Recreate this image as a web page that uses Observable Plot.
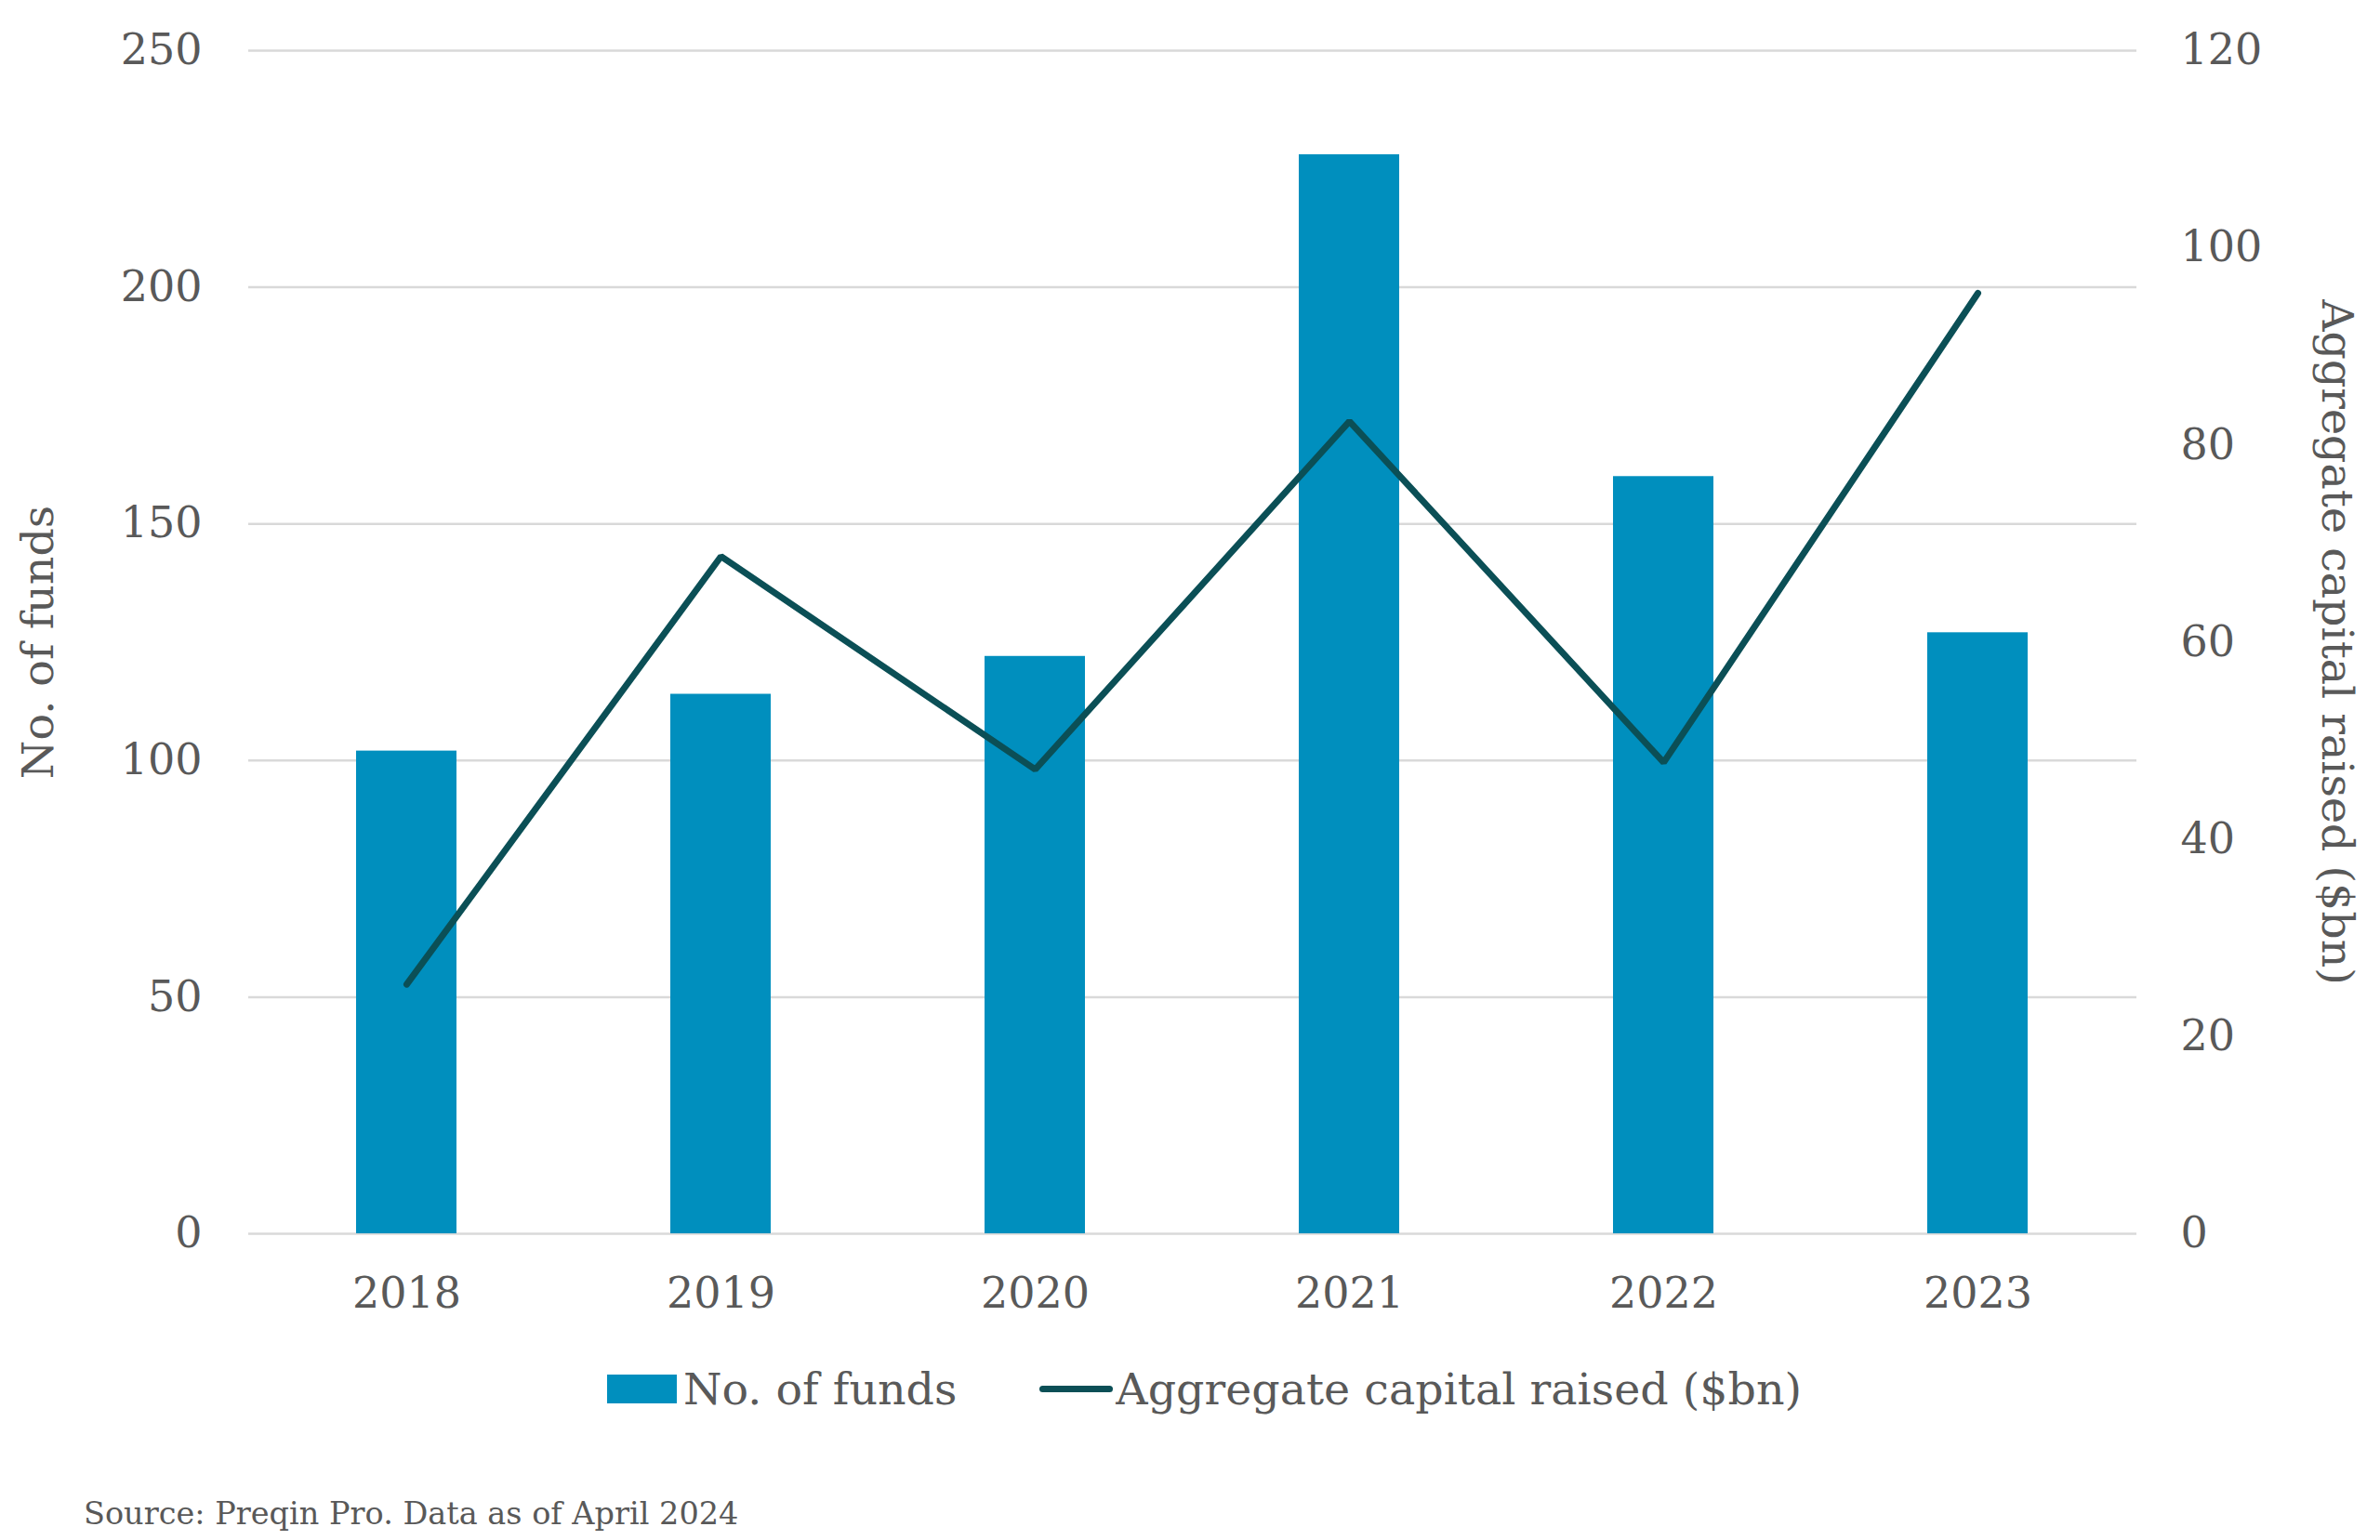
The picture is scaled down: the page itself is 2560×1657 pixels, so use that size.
<!DOCTYPE html>
<html><head><meta charset="utf-8">
<script src="https://cdn.jsdelivr.net/npm/d3@7"></script>
<script src="https://cdn.jsdelivr.net/npm/@observablehq/plot@0.6"></script>
<style>
body{margin:0;background:#fff;}
#wrap{position:relative;width:2560px;height:1657px;font-family:"DejaVu Serif",serif;color:#595959;overflow:hidden;}
#chart{position:absolute;left:0;top:0;}
#legend{position:absolute;left:653px;top:1474px;height:40px;display:flex;align-items:center;font-size:47.5px;white-space:nowrap;}
#legend .sw{width:75px;height:31px;background:#008fbe;margin-right:7px;}
#legend .ln{width:79px;height:7px;border-radius:4px;background:#0b4f56;margin-left:89px;margin-right:3px;}
#source{position:absolute;left:90px;top:1609px;font-size:33.5px;white-space:nowrap;}
</style></head><body>
<div id="wrap">
<div id="chart"></div>
<div id="legend"><div class="sw"></div><span>No. of funds</span><div class="ln"></div><span>Aggregate capital raised ($bn)</span></div>
<div id="source">Source: Preqin Pro. Data as of April 2024</div>
</div>
<script>
const years = ["2018","2019","2020","2021","2022","2023"];
const numFunds = [102,114,122,228,160,127];
const capitalRaised = [25.3,68.7,47.1,82.4,47.8,95.4];
const leftTicks = [0,50,100,150,200,250];
const rightTicks = [0,20,40,60,80,100,120];
const leftMax = 250, rightMax = 120;
const k = leftMax / rightMax;
const rows = years.map((y,i)=>({year:y, funds:numFunds[i], capital:capitalRaised[i]}));
const textColor = "#595959";

const chart = Plot.plot({
  width: 2560,
  height: 1440,
  marginLeft: 267,
  marginRight: 262,
  marginTop: 54,
  marginBottom: 113,
  style: {fontFamily: '"DejaVu Serif", serif', fontSize: "46px", color: textColor, background: "#fff"},
  x: {domain: years, paddingInner: 0.68, paddingOuter: 0.34, axis: null},
  y: {domain: [0, leftMax], axis: null},
  marks: [
    Plot.ruleY(leftTicks, {stroke: "#d9d9d9", strokeWidth: 2.5}),
    Plot.barY(rows, {x: "year", y: "funds", fill: "#008fbe"}),
    Plot.line(rows, {x: "year", y: d => d.capital * k, stroke: "#0b4f56", strokeWidth: 7, strokeLinejoin: "miter", strokeLinecap: "round"}),
    Plot.axisX({tickSize: 0, tickPadding: 47, fill: textColor, label: null, fontSize: 46}),
    Plot.axisY(leftTicks, {anchor: "left", tickSize: 0, tickPadding: 50, fill: textColor, label: null, fontSize: 46}),
    Plot.axisY(rightTicks, {anchor: "right", y: d => d * k, tickFormat: d => String(d), tickSize: 0, tickPadding: 47, fill: textColor, label: null, fontSize: 46}),
    Plot.text(["No. of funds"], {frameAnchor: "left", dx: -226, rotate: -90, textAnchor: "middle", fill: textColor, fontSize: 47.5}),
    Plot.text(["Aggregate capital raised ($bn)"], {frameAnchor: "right", dx: 215, rotate: 90, textAnchor: "middle", fill: textColor, fontSize: 47.5})
  ]
});
document.getElementById("chart").appendChild(chart);
</script>
</body></html>
